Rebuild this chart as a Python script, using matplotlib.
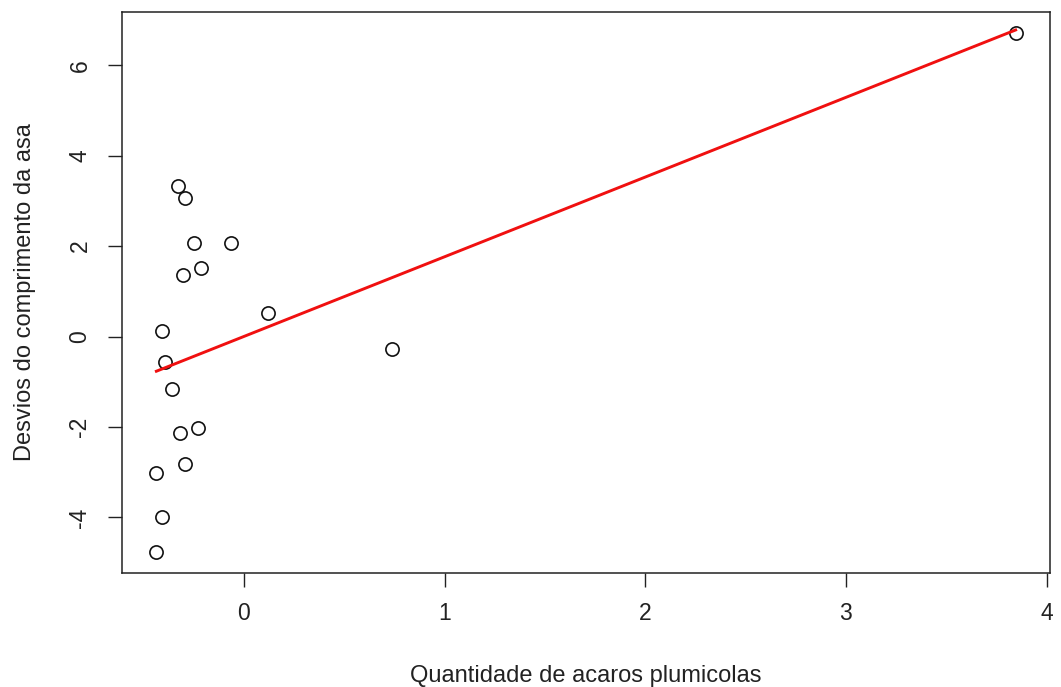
import numpy as np
import matplotlib.pyplot as plt
import matplotlib as mpl

mpl.rcParams['font.family'] = ['Liberation Sans', 'DejaVu Sans']
mpl.rcParams['axes.unicode_minus'] = False

# acaros (x) vs desvios da asa (y)
acaros = [-0.327, -0.292, -0.248, -0.062, -0.304, -0.215, 0.122, -0.410, -0.392,
          0.736, -0.357, -0.320, -0.231, -0.292, -0.436, -0.410, -0.436, 3.846]
desvios = [3.32, 3.07, 2.07, 2.07, 1.37, 1.51, 0.52, 0.12, -0.57,
           -0.28, -1.17, -2.13, -2.02, -2.82, -3.02, -4.00, -4.77, 6.72]
xticks = [0, 1, 2, 3, 4]
yticks = [-4, -2, 0, 2, 4, 6]

x = np.array(acaros)
y = np.array(desvios)
slope, icpt = np.polyfit(x, y, 1)

fig = plt.figure(figsize=(10.61, 6.87), dpi=100)
ax = fig.add_axes([122/1061, 1 - 573/687, 928/1061, 561/687])

ax.plot(x, y, 'o', mfc='none', mec='#111111', ms=9.5, mew=1.2)
xl = np.array([x.min(), x.max()])
ax.plot(xl, icpt + slope*xl, color='#f01010', lw=2.1)

# R style 4% padding
def pad(v):
    r = v.max() - v.min()
    return v.min() - 0.04*r, v.max() + 0.04*r
ax.set_xlim(*pad(x))
ax.set_ylim(*pad(y))

ax.set_xticks(xticks)
ax.set_yticks(yticks)
ax.tick_params(direction='out', length=10, width=1, labelsize=16.5, colors='#222222')
ax.tick_params(axis='x', pad=11)
ax.tick_params(axis='y', pad=12)
for lab in ax.get_yticklabels():
    lab.set_rotation(90)
    lab.set_va('center')
for s in ax.spines.values():
    s.set_linewidth(1.1)
    s.set_color('#222222')

ax.set_xlabel('Quantidade de acaros plumicolas', fontsize=17, labelpad=29, color='#222222')
ax.set_ylabel('Desvios do comprimento da asa', fontsize=17, labelpad=23, color='#222222')

fig.savefig('out.png', dpi=100)
